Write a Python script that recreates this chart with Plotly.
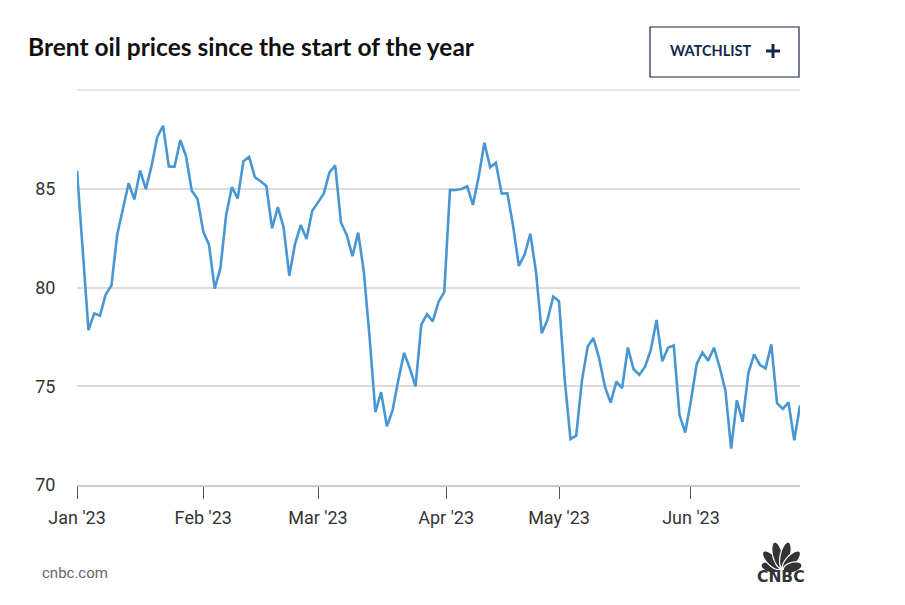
import numpy as np
import pandas as pd
import plotly.graph_objects as go

# ---------------- data ----------------
jan_prices = [85.91, 82.10, 77.84, 78.69, 78.57, 79.65, 80.10, 82.67, 84.03, 85.28, 84.46,
              85.92, 84.98, 86.16, 87.63, 88.19, 86.13, 86.12, 87.47, 86.66, 84.90, 84.49]
feb_prices = [82.84, 82.17, 79.94, 80.99, 83.69, 85.09, 84.50, 86.39, 86.61, 85.58, 85.38,
              85.14, 83.00, 84.07, 83.05, 80.60, 82.21, 83.16, 82.45, 83.89]
mar_prices = [84.31, 84.75, 85.83, 86.18, 83.29, 82.66, 81.59, 82.78, 80.77, 77.45, 73.69,
              74.70, 72.97, 73.79, 75.32, 76.69, 75.91, 74.99, 78.12, 78.65, 78.28, 79.27, 79.77]
apr_prices = [84.93, 84.94, 84.99, 85.12, 84.18, 85.61, 87.33, 86.09, 86.31, 84.76, 84.77,
              83.12, 81.10, 81.66, 82.73, 80.77, 77.69, 78.37, 79.54]
may_prices = [79.31, 75.32, 72.33, 72.50, 75.30, 77.01, 77.44, 76.41, 74.98, 74.17, 75.23,
              74.91, 76.96, 75.86, 75.58, 75.99, 76.84, 78.36, 76.26, 76.95, 77.07, 73.54, 72.66]
jun_prices = [74.28, 76.13, 76.71, 76.29, 76.95, 75.96, 74.79, 71.84, 74.29, 73.20, 75.67,
              76.61, 76.09, 75.90, 77.12, 74.14, 73.85, 74.18, 72.26, 74.03]

closed_days = ["2023-04-07"]
trading_days = [d for d in pd.bdate_range("2023-01-02", "2023-06-28")
                if d.strftime("%Y-%m-%d") not in closed_days]
prices = jan_prices + feb_prices + mar_prices + apr_prices + may_prices + jun_prices

month_starts = ["2023-01-01", "2023-02-01", "2023-03-01", "2023-04-01", "2023-05-01", "2023-06-01"]
x_tick_text = ["Jan '23", "Feb '23", "Mar '23", "Apr '23", "May '23", "Jun '23"]
y_tick_vals = [70, 75, 80, 85, 90]
y_tick_text = ["70", "75", "80", "85", ""]
y_min, y_max = 70, 90

# trading-day axis: each session is one step; month ticks sit at the calendar position
session_index = np.arange(len(trading_days))
session_ts = np.array([d.value for d in trading_days], dtype=float)
month_ts = np.array([pd.Timestamp(m).value for m in month_starts], dtype=float)
x_tick_vals = np.interp(month_ts, session_ts, session_index)
hover_dates = [d.strftime("%b %d, %Y") for d in trading_days]

# ---------------- layout helpers ----------------
PAGE_OFFSET = 8            # default body margin of the html page
W, H = 905, 605
ML, MR, MT, MB = 77, 105, 90, 120
PW, PH = W - ML - MR, H - MT - MB


def px(x):
    return (x - ML) / PW


def py(y):
    return (H - MB - y) / PH


NAVY = "#13294b"
LINE = "#4896d2"
GRID = "#dcdcdc"

fig = go.Figure()
fig.add_trace(go.Scatter(x=session_index, y=prices, mode="lines",
                         line=dict(color=LINE, width=2.6),
                         text=hover_dates, hovertemplate="%{text}<br>%{y:.2f}<extra></extra>"))

fig.update_layout(
    width=W - PAGE_OFFSET, height=H - PAGE_OFFSET,
    margin=dict(l=ML - PAGE_OFFSET, r=MR, t=MT - PAGE_OFFSET, b=MB),
    paper_bgcolor="white", plot_bgcolor="white",
    showlegend=False,
    font=dict(family="Roboto", color="#333"),
)
fig.update_xaxes(
    type="linear", range=[0, len(trading_days) - 1],
    tickvals=x_tick_vals, ticktext=x_tick_text,
    showgrid=False, zeroline=False, ticks="outside", ticklen=12, tickwidth=1, tickcolor="#555",
    showline=True, linecolor="#cccccc", linewidth=2,
    tickfont=dict(family="Roboto", size=18, color="#333"),
    ticklabelstandoff=3,
)
fig.update_yaxes(
    range=[y_min, y_max], tickvals=y_tick_vals, ticktext=y_tick_text,
    showgrid=True, gridcolor=GRID, gridwidth=1.5, zeroline=False,
    showline=False, ticks="outside", ticklen=17, tickcolor="rgba(0,0,0,0)",
    tickfont=dict(family="Roboto", size=18, color="#333"),
)

annotations = [
    dict(text="<b>Brent oil prices since the start of the year</b>", x=px(26), y=py(46),
         xanchor="left", yanchor="middle", showarrow=False,
         font=dict(family="Lato", size=24.5, color="#111")),
    dict(text="<b>WATCHLIST</b>", x=px(710.5), y=py(51), xanchor="center", yanchor="middle",
         showarrow=False, font=dict(family="Lato", size=14.5, color=NAVY)),
    dict(text="cnbc.com", x=px(40), y=py(573), xanchor="left", yanchor="middle",
         showarrow=False, font=dict(family="Roboto", size=15, color="#666")),
    dict(text="<b>CNBC</b>", x=px(780.5), y=py(577), xanchor="center", yanchor="middle",
         showarrow=False, font=dict(family="DejaVu Sans", size=15.5, color="#333")),
]
for a in annotations:
    a["xref"] = "paper"
    a["yref"] = "paper"
fig.update_layout(annotations=annotations)

shapes = [
    # top gridline (Plotly hides a grid line that sits on the range edge)
    dict(type="line", x0=0, x1=1, y0=1, y1=1, line=dict(color=GRID, width=1.5), layer="below"),
    dict(type="rect", x0=px(650), x1=px(799), y0=py(27), y1=py(77),
         line=dict(color=NAVY, width=1.2), fillcolor="rgba(0,0,0,0)"),
    dict(type="line", x0=px(766), x1=px(780), y0=py(51), y1=py(51), line=dict(color=NAVY, width=3)),
    dict(type="line", x0=px(773), x1=px(773), y0=py(44), y1=py(58), line=dict(color=NAVY, width=3)),
]

# peacock logo feathers
base_x, base_y = 781.5, 570.5
feathers = [(-74, 21), (-44, 26), (-14, 29), (14, 29), (44, 26), (74, 21)]
for ang, length in feathers:
    th = np.deg2rad(ang)
    d = np.array([np.sin(th), -np.cos(th)])
    n = np.array([np.cos(th), np.sin(th)])
    c = np.array([base_x, base_y]) + d * (length * 0.55)
    t = np.linspace(0, 2 * np.pi, 40)
    a_major, b_minor = length * 0.46, 5.0
    pts = [c + d * a_major * np.cos(tt) + n * b_minor * np.sin(tt) for tt in t]
    path = "M " + " L ".join(f"{px(p[0]):.5f},{py(p[1]):.5f}" for p in pts) + " Z"
    shapes.append(dict(type="path", path=path,
                       fillcolor="#333", line=dict(color="white", width=1.2)))

for s in shapes:
    s["xref"] = "paper"
    s["yref"] = "paper"
fig.update_layout(shapes=shapes)

fig.write_html("out.html")
